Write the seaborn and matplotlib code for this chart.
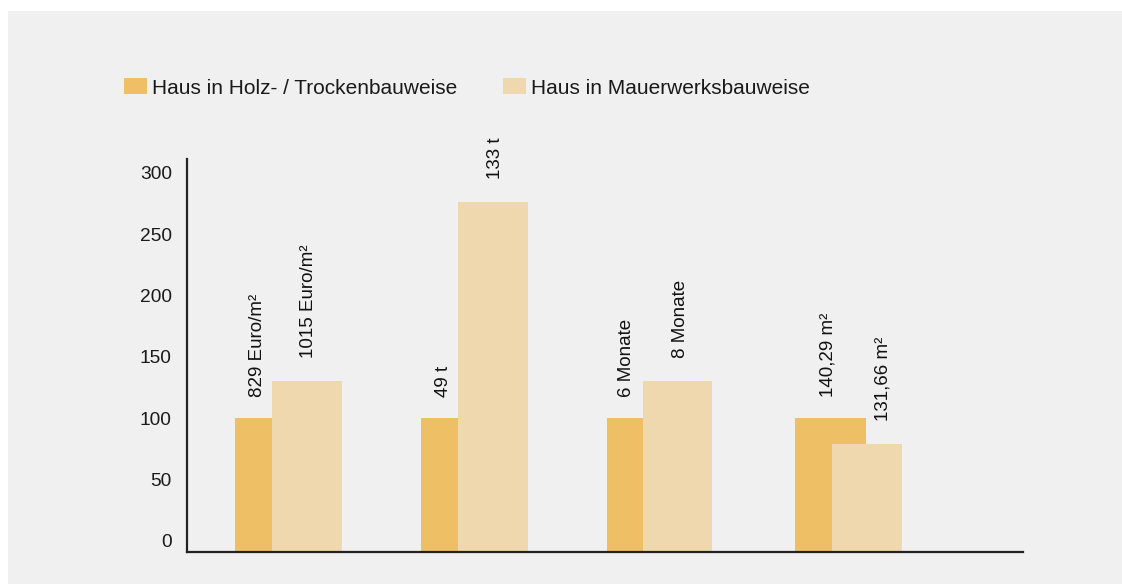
import matplotlib
matplotlib.use("Agg")
import matplotlib.pyplot as plt
import pandas as pd
import seaborn as sns
from matplotlib.patches import Rectangle

sns.set_theme(style="white")
plt.rcParams["font.family"] = ["Liberation Sans", "DejaVu Sans"]

# Data (Holz house indexed to 100)
groups = ["Baukosten", "CO2", "Bauzeit", "Wohnfläche"]
series = ["Haus in Holz- / Trockenbauweise", "Haus in Mauerwerksbauweise"]
holz_values = [100, 100, 100, 100]
mauer_values = [130, 276, 130, 79]
holz_labels = ["829 Euro/m²", "49 t", "6 Monate", "140,29 m²"]
mauer_labels = ["1015 Euro/m²", "133 t", "8 Monate", "131,66 m²"]
y_ticks = [0, 50, 100, 150, 200, 250, 300]

df = pd.DataFrame({
    "group": groups * 2,
    "series": [series[0]] * 4 + [series[1]] * 4,
    "value": holz_values + mauer_values,
})

c_holz = "#eebf65"
c_mauer = "#efd8ad"
bg = "#eff0ef"

fig = plt.figure(figsize=(11.22, 5.84), dpi=100, facecolor="white")
fig.patches.append(Rectangle((8 / 1122, 0), 1, 1 - 11 / 584, transform=fig.transFigure,
                             facecolor=bg, edgecolor="none", zorder=-10))
ax = fig.add_axes([187 / 1122, 32 / 584, (1023 - 187) / 1122, (552 - 159) / 584])
ax.set_facecolor(bg)

sns.barplot(data=df, x="group", y="value", hue="series", order=groups, hue_order=series,
            palette=[c_holz, c_mauer], saturation=1, ax=ax, legend=False)

# irregular bar layout of the original (offsets in px from group centre, 187 px per group):
# narrow Holz bar, wide Mauer bar next to it, bars start at the axis line (a bit below zero)
px = 187.0
y_lo = -9.2
holz_left = [-53.5, -54.5, -56, -54.5]
holz_width = [37, 37, 36.5, 71]
mauer_left = [-16.5, -17.5, -19.5, -17.5]
mauer_width = [70, 70, 69.5, 70]
holz_lab_dx = [-31.5, -32, -36.5, -21]
mauer_lab_dx = [19.5, 19.5, 18.5, 33.5]

bars = ax.patches
for i in range(4):
    b = bars[i]
    b.set_x(i + holz_left[i] / px)
    b.set_width(holz_width[i] / px)
    b.set_y(y_lo)
    b.set_height(holz_values[i] - y_lo)
    b.set_edgecolor("none")
    b = bars[4 + i]
    b.set_x(i + mauer_left[i] / px)
    b.set_width(mauer_width[i] / px)
    b.set_y(y_lo)
    b.set_height(mauer_values[i] - y_lo)
    b.set_edgecolor("none")

# value labels, rotated
for i in range(4):
    ax.text(i + holz_lab_dx[i] / px, holz_values[i] + 17, holz_labels[i], rotation=90,
            ha="center", va="bottom", fontsize=13.5, color="#111111")
    ax.text(i + mauer_lab_dx[i] / px, mauer_values[i] + 19, mauer_labels[i], rotation=90,
            ha="center", va="bottom", fontsize=13.5, color="#111111", clip_on=False)

ax.set_xlim(-0.543, 3.928)
ax.set_ylim(y_lo, 311.2)
ax.set_yticks(y_ticks)
ax.set_xticks([])
ax.set_xlabel("")
ax.set_ylabel("")
ax.tick_params(axis="y", length=0, pad=11, labelsize=13.8, labelcolor="#1a1a1a")
for s in ["top", "right"]:
    ax.spines[s].set_visible(False)
for s in ["left", "bottom"]:
    ax.spines[s].set_color("#222222")
    ax.spines[s].set_linewidth(1.6)

handles = [Rectangle((0, 0), 1, 1, facecolor=c, edgecolor="none") for c in [c_holz, c_mauer]]
fig.legend(handles, series, loc="center left", bbox_to_anchor=(124 / 1122, 1 - 88 / 584),
           ncol=2, frameon=False, fontsize=15, handlelength=1.1, handleheight=0.8,
           handletextpad=0.25, columnspacing=2.2, borderpad=0, borderaxespad=0,
           labelcolor="#1a1a1a")

fig.savefig("out.png", dpi=100, facecolor="white")
